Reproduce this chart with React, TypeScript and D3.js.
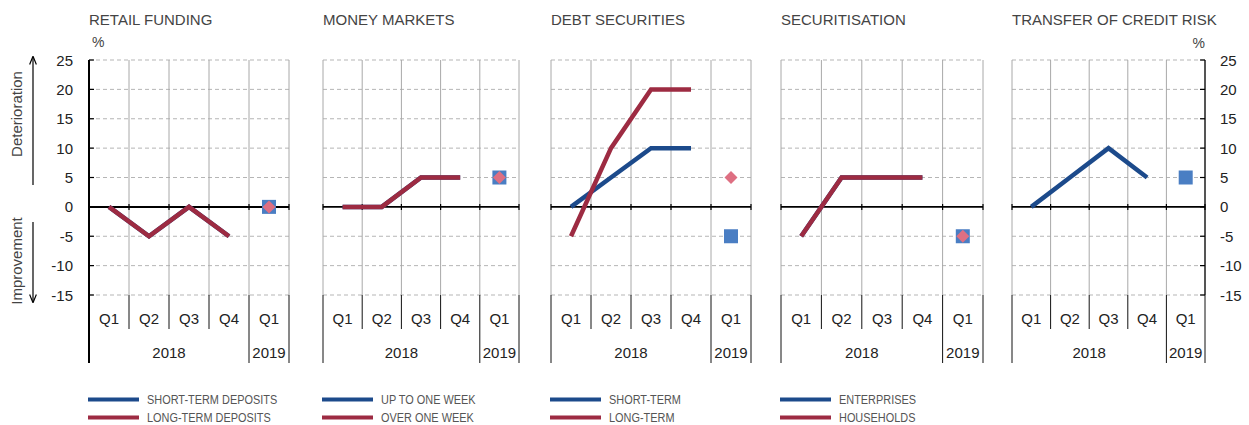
import React from "react";
import * as d3 from "d3";

const quarters = ["Q1", "Q2", "Q3", "Q4", "Q1"];
const years = [
  { label: "2018", span: 4 },
  { label: "2019", span: 1 },
];
const yTicks = [-15, -10, -5, 0, 5, 10, 15, 20, 25];

const titles = ["RETAIL FUNDING", "MONEY MARKETS", "DEBT SECURITIES", "SECURITISATION", "TRANSFER OF CREDIT RISK"];
const blueNames = ["SHORT-TERM DEPOSITS", "UP TO ONE WEEK", "SHORT-TERM", "ENTERPRISES", null];
const redNames = ["LONG-TERM DEPOSITS", "OVER ONE WEEK", "LONG-TERM", "HOUSEHOLDS", null];

// 2018 Q1..Q4 line values
const blue2018 = [
  [0, -5, 0, -5],
  [0, 0, 5, 5],
  [0, 5, 10, 10],
  [-5, 5, 5, 5],
  [0, 5, 10, 5],
];
const red2018: (number[] | null)[] = [
  [0, -5, 0, -5],
  [0, 0, 5, 5],
  [-5, 10, 20, 20],
  [-5, 5, 5, 5],
  null,
];
// 2019 Q1 expectations (markers)
const blue2019 = [0, 5, -5, -5, 5];
const red2019: (number | null)[] = [0, 5, 5, -5, null];

const panelLeft = [89, 323, 551, 781, 1012];
const panelRight = [289, 519, 751, 983, 1205];

const BLUE = "#1c4a8b";
const RED = "#9d2b42";
const SQUARE = "#4a7ec3";
const DIAMOND = "#de6f82";
const FONT = "'Liberation Sans', Arial, Helvetica, sans-serif";

const W = 1249;
const H = 425;

export default function App() {
  const y = d3.scaleLinear().domain([-15, 25]).range([295, 60]);
  const plotBottom = y(-15);
  const qBottom = 329;
  const yBottom = 363;

  return (
    <svg width={W} height={H} style={{ position: "absolute", left: 0, top: 0, background: "#fff" }}>
      <defs>
        <marker id="arr" viewBox="0 0 10 10" refX="9" refY="5" markerWidth="7" markerHeight="7" orient="auto-start-reverse">
          <path d="M0,1 L10,5 L0,9" fill="none" stroke="#000" strokeWidth="1.4" />
        </marker>
      </defs>

      {/* Left axis side labels */}
      <text x={0} y={0} transform={`translate(22,114) rotate(-90)`} textAnchor="middle" fontFamily={FONT} fontSize={15} fill="#444">
        Deterioration
      </text>
      <line x1={33} y1={185} x2={33} y2={57} stroke="#000" strokeWidth={1.2} markerEnd="url(#arr)" />
      <text x={0} y={0} transform={`translate(22,261) rotate(-90)`} textAnchor="middle" fontFamily={FONT} fontSize={15} fill="#444">
        Improvement
      </text>
      <line x1={33} y1={222} x2={33} y2={302} stroke="#000" strokeWidth={1.2} markerEnd="url(#arr)" />

      {titles.map((title, i) => {
        const x = d3.scaleBand<number>().domain(d3.range(5)).range([panelLeft[i], panelRight[i]]);
        const bw = x.bandwidth();
        const cx = (k: number) => (x(k) as number) + bw / 2;
        const bounds = d3.range(6).map((k) => (k < 5 ? (x(k) as number) : panelRight[i]));
        const line = d3
          .line<number>()
          .x((_, k) => cx(k))
          .y((v) => y(v));
        const isFirst = i === 0;
        const isLast = i === 4;
        const blueLine = blue2018[i];
        const redLine = red2018[i];
        let yearStart = 0;
        return (
          <g key={i}>
            <text x={panelLeft[i]} y={25} fontFamily={FONT} fontSize={15} fill="#444">
              {title}
            </text>
            {/* horizontal dashed grid */}
            {yTicks
              .filter((t) => t !== 0)
              .map((t) => (
                <line key={t} x1={panelLeft[i]} x2={panelRight[i]} y1={y(t)} y2={y(t)} stroke="#b5b5b5" strokeWidth={1} strokeDasharray="4,3" />
              ))}
            {/* vertical grid in plot */}
            {bounds.map((bx, k) => (
              <line key={k} x1={bx} x2={bx} y1={y(25)} y2={plotBottom} stroke="#a8a8a8" strokeWidth={1} />
            ))}
            {/* vertical separators below plot */}
            {bounds.map((bx, k) => {
              const outer = k === 0 || k === 4 || k === 5;
              return <line key={"s" + k} x1={bx} x2={bx} y1={plotBottom} y2={outer ? yBottom : qBottom} stroke="#111" strokeWidth={1} />;
            })}
            {/* zero line */}
            <line x1={panelLeft[i]} x2={panelRight[i]} y1={y(0)} y2={y(0)} stroke="#000" strokeWidth={isFirst ? 2 : 1.6} />
            {bounds.map((bx, k) => (
              <line key={"z" + k} x1={bx} x2={bx} y1={y(0) - 3} y2={y(0) + 3} stroke="#000" strokeWidth={1.2} />
            ))}
            {/* left axis */}
            {isFirst && (
              <g>
                <line x1={panelLeft[i]} x2={panelLeft[i]} y1={y(25)} y2={yBottom} stroke="#000" strokeWidth={2} />
                {yTicks.map((t) => (
                  <g key={t}>
                    <line x1={panelLeft[i]} x2={panelLeft[i] + 5} y1={y(t)} y2={y(t)} stroke="#000" strokeWidth={1.2} />
                    <text x={73} y={y(t) + 5.5} textAnchor="end" fontFamily={FONT} fontSize={15} fill="#222">
                      {t}
                    </text>
                  </g>
                ))}
                <text x={92} y={47} fontFamily={FONT} fontSize={14} fill="#444">%</text>
              </g>
            )}
            {isLast && (
              <g>
                <line x1={panelRight[i]} x2={panelRight[i]} y1={y(25)} y2={plotBottom} stroke="#000" strokeWidth={1.2} />
                {yTicks.map((t) => (
                  <g key={t}>
                    <line x1={panelRight[i] - 5} x2={panelRight[i]} y1={y(t)} y2={y(t)} stroke="#000" strokeWidth={1.2} />
                    <text x={1220} y={y(t) + 5.5} textAnchor="start" fontFamily={FONT} fontSize={15} fill="#222">
                      {t}
                    </text>
                  </g>
                ))}
                <text x={1205} y={48} textAnchor="end" fontFamily={FONT} fontSize={14} fill="#444">%</text>
              </g>
            )}
            {/* quarter labels */}
            {quarters.map((q, k) => (
              <text key={k} x={cx(k)} y={323.5} textAnchor="middle" fontFamily={FONT} fontSize={15} fill="#222">
                {q}
              </text>
            ))}
            {years.map((yr, k) => {
              const s = yearStart;
              yearStart += yr.span;
              const mid = ((x(s) as number) + (s + yr.span < 5 ? (x(s + yr.span) as number) : panelRight[i])) / 2;
              return (
                <text key={k} x={mid} y={357.5} textAnchor="middle" fontFamily={FONT} fontSize={15} fill="#222">
                  {yr.label}
                </text>
              );
            })}
            {/* lines */}
            <path d={line(blueLine) || ""} fill="none" stroke={BLUE} strokeWidth={4.5} strokeLinejoin="miter" />
            {redLine && <path d={line(redLine) || ""} fill="none" stroke={RED} strokeWidth={4.5} strokeLinejoin="miter" />}
            {/* 2019 markers */}
            <rect x={cx(4) - 7} y={y(blue2019[i]) - 7} width={14} height={14} fill={SQUARE} />
            {red2019[i] !== null && (
              <path
                d={`M${cx(4)},${y(red2019[i] as number) - 6.5} L${cx(4) + 6.5},${y(red2019[i] as number)} L${cx(4)},${y(red2019[i] as number) + 6.5} L${cx(4) - 6.5},${y(red2019[i] as number)} Z`}
                fill={DIAMOND}
              />
            )}
            {/* legend */}
            {blueNames[i] && (
              <g>
                <line x1={panelLeft[i] - 1} x2={panelLeft[i] + 50} y1={399.5} y2={399.5} stroke={BLUE} strokeWidth={4} />
                <text transform={`translate(${panelLeft[i] + 58},404) scale(0.84,1)`} fontFamily={FONT} fontSize={13} fill="#555">
                  {blueNames[i]}
                </text>
              </g>
            )}
            {redNames[i] && (
              <g>
                <line x1={panelLeft[i] - 1} x2={panelLeft[i] + 50} y1={417.5} y2={417.5} stroke={RED} strokeWidth={4} />
                <text transform={`translate(${panelLeft[i] + 58},422) scale(0.84,1)`} fontFamily={FONT} fontSize={13} fill="#555">
                  {redNames[i]}
                </text>
              </g>
            )}
          </g>
        );
      })}
    </svg>
  );
}
